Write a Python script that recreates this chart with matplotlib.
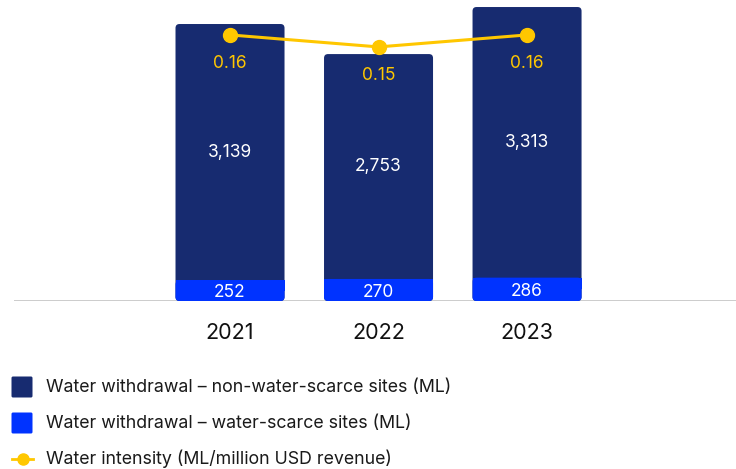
import matplotlib.pyplot as plt
from matplotlib.patches import FancyBboxPatch, Rectangle
from matplotlib.lines import Line2D
import numpy as np

plt.rcParams['font.family'] = ['Inter', 'DejaVu Sans']

years = ['2021', '2022', '2023']
non_scarce = [3139, 2753, 3313]
scarce = [252, 270, 286]
intensity = [0.16, 0.15, 0.16]
intensity_labels = ['0.16', '0.15', '0.16']

navy = '#172B70'
blue = '#0033FF'
gold = '#FFC700'

W, H = 736, 469
fig = plt.figure(figsize=(W / 100, H / 100), dpi=100)
ax = fig.add_axes([14 / W, 168 / H, 722 / W, 301 / H])
ax.set_xlim(-1.4545, 3.407)
ax.set_ylim(0, 3685)
ax.axis('off')

x = np.arange(len(years))
width = 0.734
# rounding radius in x units, and y/x ratio so corners look circular
rad = 4 / 148.5
aspect = (3685 / 301) / (1 / 148.5)

for xi, ns, sc in zip(x, non_scarce, scarce):
    total = ns + sc
    ax.add_patch(FancyBboxPatch((xi - width / 2 + rad, rad * aspect),
                                width - 2 * rad, total - 2 * rad * aspect,
                                boxstyle=f'round,pad={rad}', mutation_aspect=aspect,
                                fc=navy, ec='none', zorder=2))
    ax.add_patch(FancyBboxPatch((xi - width / 2 + rad, rad * aspect),
                                width - 2 * rad, sc - 2 * rad * aspect,
                                boxstyle=f'round,pad={rad}', mutation_aspect=aspect,
                                fc=blue, ec='none', zorder=3))
    ax.add_patch(Rectangle((xi - width / 2, sc / 2), width, sc / 2,
                           fc=blue, ec='none', zorder=3))
    ax.text(xi, sc + ns / 2, f'{ns:,}', color='white', fontsize=12.5,
            ha='center', va='center', zorder=5)
    ax.text(xi, sc / 2 - 25, f'{sc:,}', color='white', fontsize=12.5,
            ha='center', va='center', zorder=5)
    ax.text(xi, -390, years[xi], color='#111111', fontsize=15.5,
            ha='center', va='center', clip_on=False)

ax.axhline(0, color='#c4c4c4', lw=1.2, zorder=1)

# intensity line on its own scale
ax2 = ax.twinx()
ax2.set_ylim(-0.0617, 0.1891)
ax2.axis('off')
ax2.plot(x, intensity, color=gold, lw=2.2, marker='o', ms=10, zorder=6)
for xi, v, lab in zip(x, intensity, intensity_labels):
    ax2.text(xi, v - 0.0235, lab, color=gold, fontsize=12.5,
             ha='center', va='center')

# legend rows, laid out by hand in pixel positions
labels = [
    'Water withdrawal \u2013 non-water-scarce sites (ML)',
    'Water withdrawal \u2013 water-scarce sites (ML)',
    'Water intensity (ML/million USD revenue)',
]
rows_y = [387, 423, 459]
for i, (lab, py) in enumerate(zip(labels, rows_y)):
    fy = 1 - py / H
    if i < 2:
        fig.add_artist(FancyBboxPatch((13 / W, fy - 9 / H), 18 / W, 18 / H,
                                      boxstyle=f'round,pad={1.5 / W}',
                                      mutation_aspect=W / H,
                                      fc=[navy, blue][i], ec='none',
                                      transform=fig.transFigure))
    else:
        fig.add_artist(Line2D([12 / W, 33 / W], [fy, fy], color=gold, lw=2,
                              marker='o', markevery=[0], ms=0,
                              transform=fig.transFigure))
        fig.add_artist(Line2D([22.5 / W], [fy], color=gold, marker='o', ms=8,
                              ls='none', transform=fig.transFigure))
    fig.text(46 / W, fy, lab, fontsize=12.8, color='#1a1a1a', va='center',
             ha='left')

fig.savefig('out.png', dpi=100)
